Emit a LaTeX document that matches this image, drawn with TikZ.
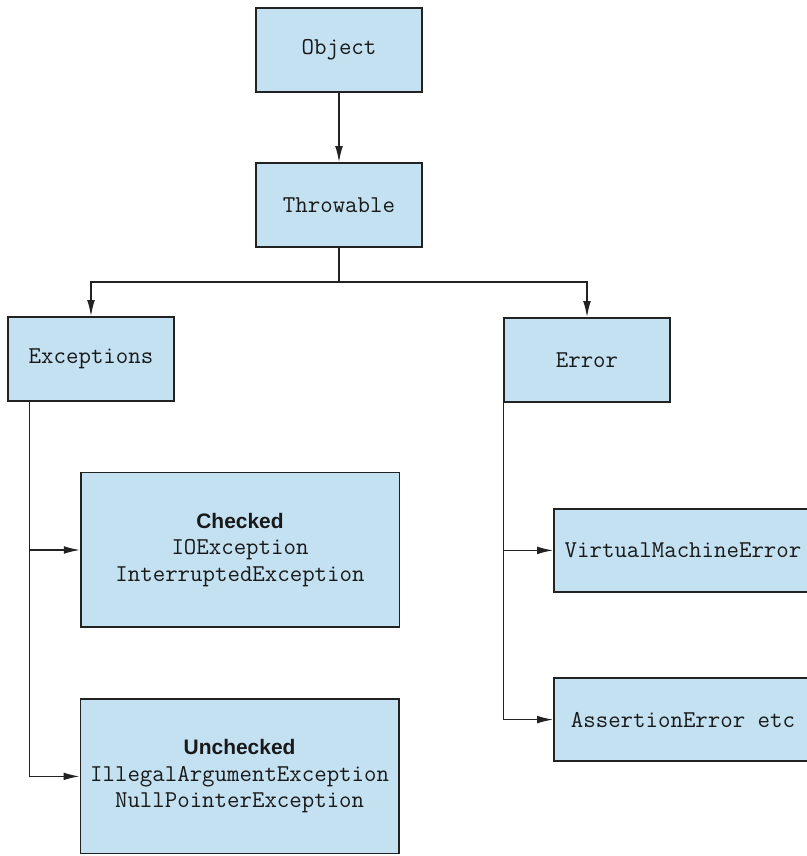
\documentclass[tikz,border=0pt]{standalone}
\usepackage{fontspec}
\setsansfont{Liberation Sans}
\usepackage{xcolor}
\usepackage{tikz}
\usetikzlibrary{arrows.meta,positioning,calc}
\definecolor{classblue}{RGB}{196,225,242}
\definecolor{edgegray}{RGB}{34,34,34}
\newcommand{\kindhead}[1]{{\fontsize{14.9}{18.8}\selectfont\sffamily\bfseries #1}}

\begin{document}
\begin{tikzpicture}[
      cls/.style={rectangle, draw=edgegray, fill=classblue, line width=1pt,
                  minimum height=2.1cm, minimum width=4.15cm, inner sep=2pt,
                  align=center, text=black!90,
                  font=\fontsize{17.2}{18.8}\selectfont\ttfamily},
      bigcls/.style={cls, minimum height=3.86cm, minimum width=7.96cm},
      leaf/.style={cls, minimum height=2.075cm, minimum width=6.45cm},
      arrow/.style={-{Latex[length=11.5pt,width=5.5pt]}, line width=1.1pt, color=edgegray}
    ]
      \useasboundingbox (0,0) rectangle (20.15,21.4);
      %% top of the hierarchy
      \node[cls] (obj) at (8.475, 20.15) {Object};
      \node[cls] (thr) at (8.475, 16.275) {Throwable};
      \node[cls] (exc) at (2.275, 12.425) {Exceptions};
      \node[cls] (err) at (14.675, 12.4) {Error};
      %% exception kinds
      \node[bigcls] (chk) at (6.0, 7.65)
          {\kindhead{Checked}\\IOException\\InterruptedException};
      \node[bigcls] (unc) at (5.99, 1.99)
          {\kindhead{Unchecked}\\IllegalArgumentException\\NullPointerException};
      %% error kinds
      \node[leaf] (vm) at (17.075, 7.64) {VirtualMachineError};
      \node[leaf] (asr) at (17.075, 3.41) {AssertionError etc};
      %% connectors
      \draw[arrow] (obj.south) -- (thr.north);
      \coordinate (fork) at (8.475, 14.35);
      \draw[line width=1.1pt, color=edgegray] (thr.south) -- (fork);
      \draw[arrow] (fork) -| (exc.north);
      \draw[arrow] (fork) -| (err.north);
      \draw[arrow] ($(exc.south west)+(0.55,0)$) |- (chk.west);
      \draw[arrow] ($(exc.south west)+(0.55,0)$) |- (unc.west);
      \draw[arrow] (err.south west) |- (vm.west);
      \draw[arrow] (err.south west) |- (asr.west);
    \end{tikzpicture}
\end{document}
